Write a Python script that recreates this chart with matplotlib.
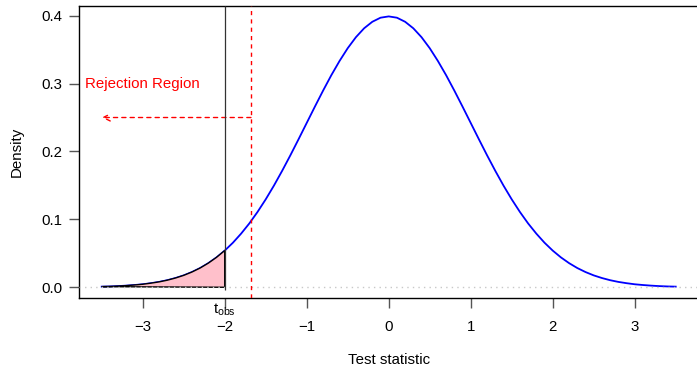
import matplotlib.pyplot as plt

plt.rcParams['font.family'] = ['Liberation Sans', 'DejaVu Sans']
plt.rcParams['mathtext.fontset'] = 'custom'
plt.rcParams['mathtext.rm'] = 'Liberation Sans'
plt.rcParams['mathtext.it'] = 'Liberation Sans'

# density curve
x_vals = [-3.5, -3.4, -3.3, -3.2, -3.1, -3.0, -2.9, -2.8, -2.7, -2.6, -2.5, -2.4, -2.3, -2.2, -2.1,
          -2.0, -1.9, -1.8, -1.7, -1.6, -1.5, -1.4, -1.3, -1.2, -1.1, -1.0, -0.9, -0.8, -0.7, -0.6,
          -0.5, -0.4, -0.3, -0.2, -0.1, 0.0, 0.1, 0.2, 0.3, 0.4, 0.5, 0.6, 0.7, 0.8, 0.9,
          1.0, 1.1, 1.2, 1.3, 1.4, 1.5, 1.6, 1.7, 1.8, 1.9, 2.0, 2.1, 2.2, 2.3, 2.4,
          2.5, 2.6, 2.7, 2.8, 2.9, 3.0, 3.1, 3.2, 3.3, 3.4, 3.5]
density = [0.0009, 0.0012, 0.0017, 0.0024, 0.0033, 0.0044, 0.0060, 0.0079, 0.0104, 0.0136,
           0.0175, 0.0224, 0.0283, 0.0355, 0.0440, 0.0540, 0.0656, 0.0790, 0.0940, 0.1109,
           0.1295, 0.1497, 0.1714, 0.1942, 0.2179, 0.2420, 0.2661, 0.2897, 0.3123, 0.3332,
           0.3521, 0.3683, 0.3814, 0.3910, 0.3970, 0.3989, 0.3970, 0.3910, 0.3814, 0.3683,
           0.3521, 0.3332, 0.3123, 0.2897, 0.2661, 0.2420, 0.2179, 0.1942, 0.1714, 0.1497,
           0.1295, 0.1109, 0.0940, 0.0790, 0.0656, 0.0540, 0.0440, 0.0355, 0.0283, 0.0224,
           0.0175, 0.0136, 0.0104, 0.0079, 0.0060, 0.0044, 0.0033, 0.0024, 0.0017, 0.0012,
           0.0009]
t_obs = -2.0
t_crit = -1.68
arrow_y = 0.25
x_ticks = [-3, -2, -1, 0, 1, 2, 3]
y_ticks = [0.0, 0.1, 0.2, 0.3, 0.4]

fs = 10.8
fig = plt.figure(figsize=(6.97, 3.69), dpi=100)
ax = fig.add_axes([0.1130, 0.193, 0.8894, 0.7894])
ax.set_xlim(-3.78, 3.78)
ax.set_ylim(-0.0155, 0.4135)

ax.plot(x_vals, density, color='blue', lw=1.3, zorder=3)

# shaded tail
tail_x = [x for x in x_vals if x <= t_obs]
tail_y = density[:len(tail_x)]
ax.fill(tail_x + [t_obs], tail_y + [0.0], facecolor='pink', edgecolor='black', lw=1.0, zorder=4)

ax.axhline(0, color='#c8c8c8', lw=1.0, linestyle=(0, (1, 3)), zorder=5)
ax.vlines(t_obs, -0.004, 0.4135, color='#333333', lw=0.9, zorder=5)
ax.axvline(t_crit, color='red', lw=1.0, linestyle=(0, (3, 3)), zorder=5)
ax.annotate('', xy=(-3.5, arrow_y), xytext=(t_crit, arrow_y),
            arrowprops=dict(arrowstyle='->,head_length=0.5,head_width=0.25', color='red',
                            linestyle=(0, (3, 3)), lw=1.0, shrinkA=0, shrinkB=0))
ax.text(-3.0, 0.30, 'Rejection Region', color='red', fontsize=fs, ha='center', va='center')
ax.text(t_obs, -0.021, r'$\mathrm{t}_{\mathrm{obs}}$', fontsize=fs, ha='center', va='top',
        clip_on=False)

ax.set_xticks(x_ticks)
ax.set_xticklabels([str(v).replace('-', '\u2212') for v in x_ticks])
ax.set_yticks(y_ticks)
ax.set_yticklabels(['%.1f' % v for v in y_ticks])
ax.tick_params(axis='x', length=7, width=1, labelsize=fs, pad=9, color='#555555')
ax.tick_params(axis='y', length=7, width=1, labelsize=fs, pad=5, color='#555555')
ax.spines['right'].set_visible(False)
for s in ['left', 'bottom', 'top']:
    ax.spines[s].set_linewidth(1.0)

fig.text(16.5 / 697, 1 - 152 / 369, 'Density', rotation=90, fontsize=fs, ha='center', va='center')
fig.text(389 / 697, 1 - 360 / 369, 'Test statistic', fontsize=fs, ha='center', va='center')

fig.savefig('out.png', dpi=100)
